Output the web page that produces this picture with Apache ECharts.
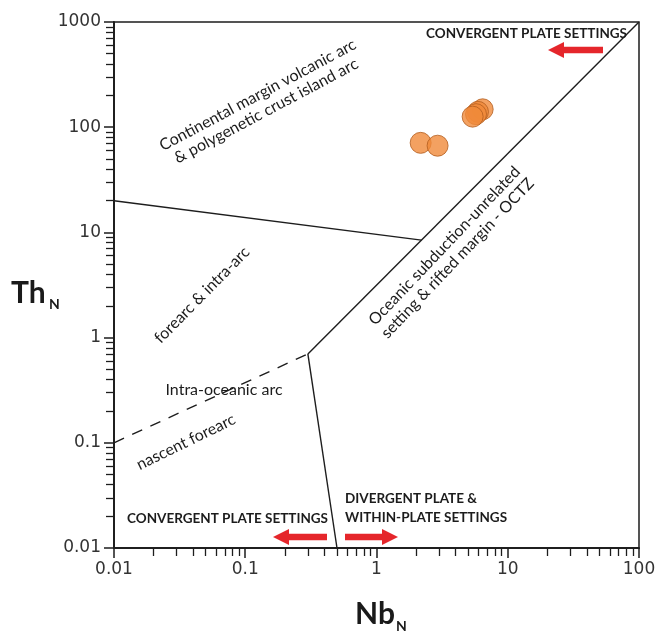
<!DOCTYPE html>
<html>
<head>
<meta charset="utf-8">
<script src="https://cdn.jsdelivr.net/npm/echarts@6/dist/echarts.min.js"></script>
<style>
  html, body { margin: 0; padding: 0; background: #fff; }
  #chart { width: 659px; height: 637px; }
</style>
</head>
<body>
<div id="chart"></div>
<script>
// Th_N vs Nb_N 判別図（対数軸）
const X_MAJOR = [0.01, 0.1, 1, 10, 100];
const Y_MAJOR = [0.01, 0.1, 1, 10, 100, 1000];

// 境界線（Nb_N, Th_N）
const OCTZ_LINE = [[0.3, 0.7], [100, 1000]];
const ARC_LINE = [[0.01, 20], [2.2, 8.45]];
const NASCENT_LINE = [[0.01, 0.1], [0.3, 0.7]];
const DIVIDE_LINE = [[0.3, 0.7], [0.5, 0.01]];

// 試料（奥から手前の順）
const SAMPLES = [
  [2.17, 71],
  [2.92, 66.7],
  [6.44, 148],
  [5.93, 140],
  [5.73, 133],
  [5.4, 126],
];

// 2〜9倍の副目盛り
const minorOf = (majors) => {
  const out = [];
  majors.slice(0, -1).forEach((m) => {
    for (let k = 2; k <= 9; k++) out.push(+(m * k).toPrecision(3));
  });
  return out;
};

const INK = '#1d1d1d';
const RED = '#e5262b';
const TICK_FONT = { color: '#333', fontSize: 17, fontFamily: 'DejaVu Sans' };
const NOTE = 'Lato';
const fmt = (v) => String(Number(Number(v).toPrecision(3)));

function logAxis(majors, pos, withLabels) {
  return {
    type: 'log',
    logBase: 10,
    min: majors[0],
    max: majors[majors.length - 1],
    position: pos,
    axisLine: { show: true, onZero: false, lineStyle: { color: INK, width: 1.5 } },
    axisTick: withLabels
      ? { show: true, inside: false, length: 10, lineStyle: { color: INK, width: 1.5 } }
      : {
        show: true,
        inside: false,
        length: 8,
        customValues: minorOf(majors),
        lineStyle: { color: INK, width: 1.3 },
      },
    axisLabel: withLabels
      ? { show: true, formatter: fmt, margin: 13, ...TICK_FONT }
      : { show: false },
    splitLine: { show: false },
    minorTick: { show: false },
  };
}

function boundary(data, dashed) {
  return {
    type: 'line',
    data,
    symbol: 'none',
    silent: true,
    z: 2,
    lineStyle: { color: INK, width: 1.4, type: dashed ? [11, 9] : 'solid' },
  };
}

function note(text, x, y, deg, opts) {
  return {
    type: 'text',
    x, y,
    rotation: (deg * Math.PI) / 180,
    z: 10,
    style: {
      text,
      align: 'center',
      verticalAlign: 'middle',
      fill: '#1c1c1c',
      font: `16px ${NOTE}`,
      lineHeight: 18,
      ...opts,
    },
  };
}

function arrow(tipX, tailX, y) {
  const dir = tailX > tipX ? 1 : -1;
  const headX = tipX + dir * 16;
  return {
    type: 'polygon',
    z: 10,
    shape: {
      points: [
        [tipX, y], [headX, y - 8], [headX, y - 3.2], [tailX, y - 3.2],
        [tailX, y + 3.2], [headX, y + 3.2], [headX, y + 8],
      ],
    },
    style: { fill: RED },
  };
}

const chart = echarts.init(document.getElementById('chart'), null, { renderer: 'canvas' });
chart.setOption({
  backgroundColor: '#fff',
  animation: false,
  grid: {
    left: 114, right: 20, top: 22, bottom: 89,
    show: true, borderColor: INK, borderWidth: 1.5,
  },
  xAxis: [logAxis(X_MAJOR, 'bottom', true), logAxis(X_MAJOR, 'bottom', false)],
  yAxis: [logAxis(Y_MAJOR, 'left', true), logAxis(Y_MAJOR, 'left', false)],
  series: [
    boundary(OCTZ_LINE, false),
    boundary(ARC_LINE, false),
    boundary(NASCENT_LINE, true),
    boundary(DIVIDE_LINE, false),
    {
      type: 'scatter',
      data: SAMPLES,
      symbol: 'circle',
      symbolSize: 21,
      z: 5,
      itemStyle: { color: '#f08a3a', borderColor: '#b35e1f', borderWidth: 1 },
    },
  ],
  graphic: [
    note('Continental margin volcanic arc\n& polygenetic crust island arc', 262, 103, 28),
    note('forearc & intra-arc', 202, 295, 45.5),
    note('Intra-oceanic arc', 224, 390, 0),
    note('nascent forearc', 186, 442, 26),
    note('Oceanic subduction-unrelated\nsetting & rifted margin - OCTZ', 451, 252, 46.5),
    note('CONVERGENT PLATE SETTINGS', 627, 34, 0, { align: 'right', font: `bold 13.5px ${NOTE}` }),
    note('CONVERGENT PLATE SETTINGS', 328, 519, 0, { align: 'right', font: `bold 13.5px ${NOTE}` }),
    note('DIVERGENT PLATE &\nWITHIN-PLATE SETTINGS', 345, 508, 0,
      { align: 'left', font: `bold 13.5px ${NOTE}`, lineHeight: 19 }),
    arrow(548, 603, 50),
    arrow(273, 327, 537),
    arrow(398, 345, 537),
    {
      type: 'text', x: 11, y: 293, z: 10,
      style: { text: 'Th', fill: '#1a1a1a', font: `bold 30px ${NOTE}`, verticalAlign: 'middle' },
    },
    {
      type: 'text', x: 49, y: 304, z: 10,
      style: { text: 'N', fill: '#1a1a1a', font: `bold 14px ${NOTE}`, verticalAlign: 'middle' },
    },
    {
      type: 'text', x: 355, y: 614, z: 10,
      style: { text: 'Nb', fill: '#1a1a1a', font: `bold 30px ${NOTE}`, verticalAlign: 'middle' },
    },
    {
      type: 'text', x: 396, y: 626, z: 10,
      style: { text: 'N', fill: '#1a1a1a', font: `bold 14px ${NOTE}`, verticalAlign: 'middle' },
    },
  ],
});

window.addEventListener('resize', () => chart.resize());
</script>
</body>
</html>
